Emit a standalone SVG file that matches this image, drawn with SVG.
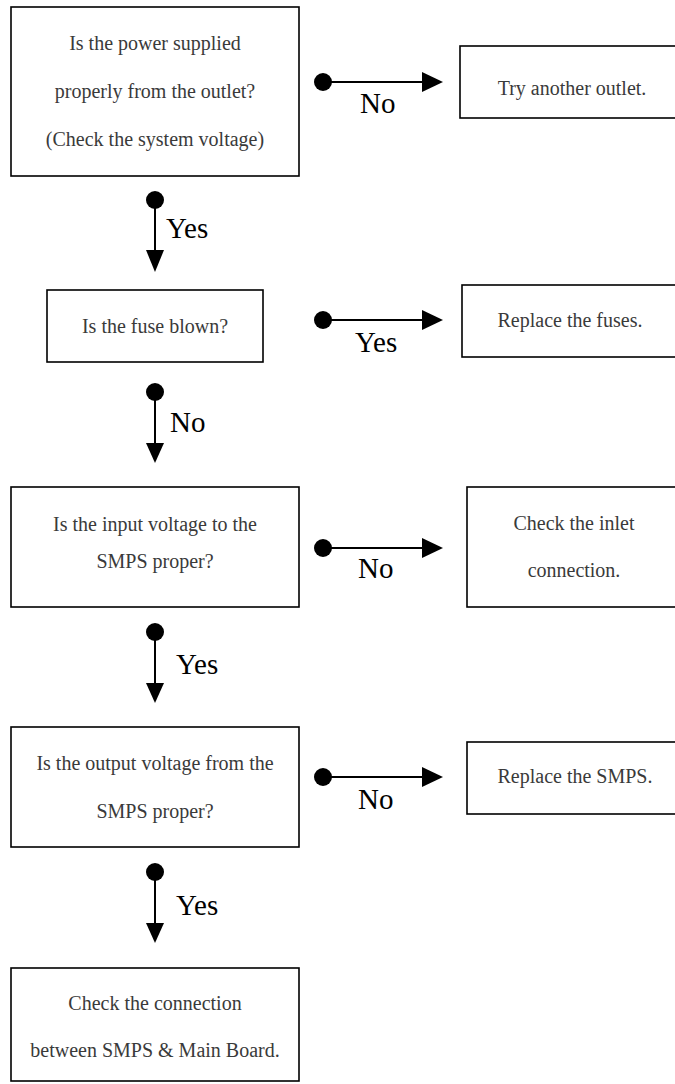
<svg xmlns="http://www.w3.org/2000/svg" width="675" height="1084" viewBox="0 0 675 1084">
<defs>
<style>
.box{fill:#fff;stroke:#000;stroke-width:1.6}
.t{font-family:"Liberation Serif",serif;font-size:20px;fill:#3a3a3a;text-anchor:middle}
.lbl{font-family:"Liberation Serif",serif;font-size:29px;fill:#000}
.ln{stroke:#000;stroke-width:2;fill:none}
.dot{fill:#000}
.head{fill:#000}
</style>
</defs>
<rect width="675" height="1084" fill="#fff"/>
<g id="n1"><rect class="box" x="11" y="7" width="288" height="169"/>
<text class="t" x="155" y="50">Is the power supplied</text>
<text class="t" x="155" y="98">properly from the outlet?</text>
<text class="t" x="155" y="146">(Check the system voltage)</text></g>
<g id="n2"><rect class="box" x="460" y="46" width="225" height="72"/>
<text class="t" x="572" y="95">Try another outlet.</text></g>
<g id="n3"><rect class="box" x="47" y="290" width="216" height="72"/>
<text class="t" x="155" y="333">Is the fuse blown?</text></g>
<g id="n4"><rect class="box" x="462" y="285" width="225" height="72"/>
<text class="t" x="570" y="327">Replace the fuses.</text></g>
<g id="n5"><rect class="box" x="11" y="487" width="288" height="120"/>
<text class="t" x="155" y="531">Is the input voltage to the</text>
<text class="t" x="155" y="568">SMPS proper?</text></g>
<g id="n6"><rect class="box" x="467" y="487" width="225" height="120"/>
<text class="t" x="574" y="530">Check the inlet</text>
<text class="t" x="574" y="577">connection.</text></g>
<g id="n7"><rect class="box" x="11" y="727" width="288" height="120"/>
<text class="t" x="155" y="770">Is the output voltage from the</text>
<text class="t" x="155" y="818">SMPS proper?</text></g>
<g id="n8"><rect class="box" x="467" y="742" width="225" height="72"/>
<text class="t" x="575" y="783">Replace the SMPS.</text></g>
<g id="n9"><rect class="box" x="11" y="968" width="288" height="113"/>
<text class="t" x="155" y="1010">Check the connection</text>
<text class="t" x="155" y="1057">between SMPS &amp; Main Board.</text></g>
<g id="connectors">
<circle class="dot" cx="155" cy="200" r="9"/><line class="ln" x1="155" y1="200" x2="155" y2="252"/><polygon class="head" points="146,250 164,250 155,272"/>
<text class="lbl" x="166" y="238">Yes</text>
<circle class="dot" cx="323" cy="82" r="9"/><line class="ln" x1="323" y1="82" x2="424" y2="82"/><polygon class="head" points="422,72 422,92 443,82"/>
<text class="lbl" x="360" y="113">No</text>
<circle class="dot" cx="155" cy="392" r="9"/><line class="ln" x1="155" y1="392" x2="155" y2="445"/><polygon class="head" points="146,443 164,443 155,463"/>
<text class="lbl" x="170" y="432">No</text>
<circle class="dot" cx="323" cy="320" r="9"/><line class="ln" x1="323" y1="320" x2="424" y2="320"/><polygon class="head" points="422,310 422,330 443,320"/>
<text class="lbl" x="355" y="352">Yes</text>
<circle class="dot" cx="155" cy="632" r="9"/><line class="ln" x1="155" y1="632" x2="155" y2="685"/><polygon class="head" points="146,683 164,683 155,703"/>
<text class="lbl" x="176" y="674">Yes</text>
<circle class="dot" cx="323" cy="548" r="9"/><line class="ln" x1="323" y1="548" x2="424" y2="548"/><polygon class="head" points="422,538 422,558 443,548"/>
<text class="lbl" x="358" y="578">No</text>
<circle class="dot" cx="155" cy="872" r="9"/><line class="ln" x1="155" y1="872" x2="155" y2="925"/><polygon class="head" points="146,923 164,923 155,943"/>
<text class="lbl" x="176" y="915">Yes</text>
<circle class="dot" cx="323" cy="777" r="9"/><line class="ln" x1="323" y1="777" x2="424" y2="777"/><polygon class="head" points="422,767 422,787 443,777"/>
<text class="lbl" x="358" y="809">No</text>
</g>
</svg>
